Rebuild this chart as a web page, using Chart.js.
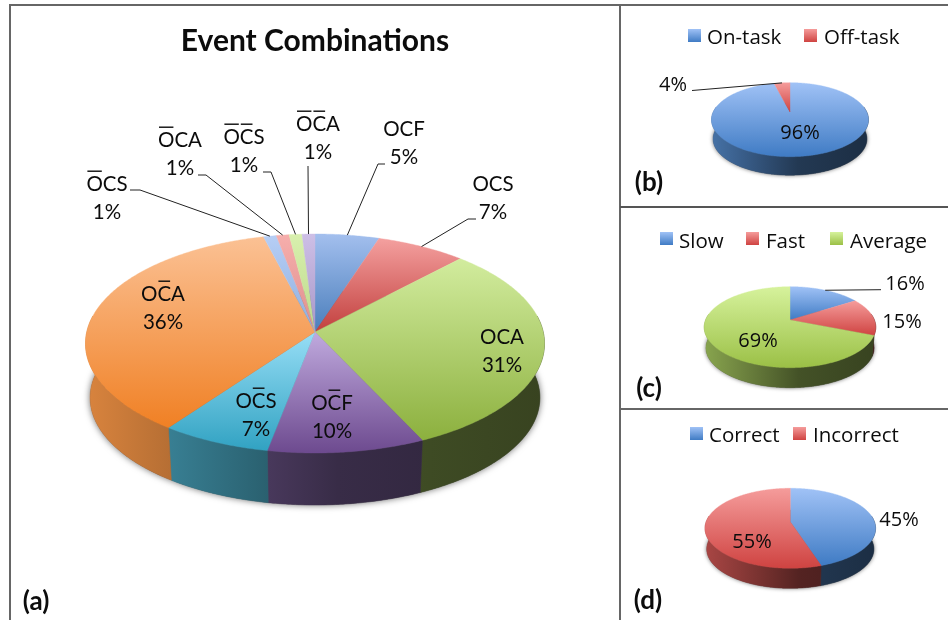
<!DOCTYPE html>
<html>
<head>
<meta charset="utf-8">
<title>Event Combinations</title>
<script src="https://cdn.jsdelivr.net/npm/chart.js@4"></script>
<style>
html, body { margin: 0; padding: 0; background: #fff; overflow: hidden; }
canvas { position: absolute; display: block; }
.rule { position: absolute; background: #666; }
</style>
</head>
<body>
<div class="rule" style="left:9px;top:4px;width:939px;height:2px"></div>
<div class="rule" style="left:9px;top:4px;width:2px;height:616px"></div>
<div class="rule" style="left:619px;top:4px;width:2px;height:616px"></div>
<div class="rule" style="left:620px;top:206px;width:328px;height:2px;background:#555"></div>
<div class="rule" style="left:620px;top:408px;width:328px;height:2px"></div>
<canvas id="eventChart" width="619" height="620" style="left:0;top:0"></canvas>
<canvas id="taskChart" width="327" height="206" style="left:621px;top:0"></canvas>
<canvas id="speedChart" width="327" height="200" style="left:621px;top:208px"></canvas>
<canvas id="answerChart" width="327" height="210" style="left:621px;top:410px"></canvas>
<script>
// U+0304 marks a barred letter in the category names
var eventNames = ["OCF", "OCS", "OCA", "OC\u0304F", "OC\u0304S", "OC\u0304A", "O\u0304CS", "O\u0304CA", "O\u0304C\u0304S", "O\u0304C\u0304A"];
var eventShares = [5, 7, 31, 10, 7, 36, 1, 1, 1, 1];
var taskNames = ["On-task", "Off-task"];
var taskShares = [96, 4];
var speedNames = ["Slow", "Fast", "Average"];
var speedShares = [16, 15, 69];
var answerNames = ["Correct", "Incorrect"];
var answerShares = [45, 55];

var BLUE = { light: "#a0c2f6", dark: "#3f7bc4", base: "#4f81bd" };
var RED = { light: "#f59c9b", dark: "#cf4341", base: "#c0504d" };
var GREEN = { light: "#d6f29c", dark: "#9bc046", base: "#9bbb59" };

var eventColors = [
    { light: "#a3bfee", dark: "#4a7ebb", base: "#4f81bd" },
    { light: "#f4a09f", dark: "#c2403e", base: "#c0504d" },
    { light: "#d2ec9e", dark: "#8cb03e", base: "#9bbb59" },
    { light: "#c0aade", dark: "#6d4a8f", base: "#8064a2" },
    { light: "#97def6", dark: "#31a2c2", base: "#4bacc6" },
    { light: "#fbc194", dark: "#f08024", base: "#f79646" },
    { light: "#b6cef5", dark: "#8eaedd", base: "#8eaedd" },
    { light: "#f6aeac", dark: "#de8f8d", base: "#de8f8d" },
    { light: "#d8f0ae", dark: "#bcd98a", base: "#bcd98a" },
    { light: "#cdbfe6", dark: "#a897c8", base: "#a897c8" }
];

// brightness of the pie wall from its left edge to its right edge
var wallShade = [[0, 0.88], [0.18, 0.74], [0.4, 0.56], [0.55, 0.44], [0.75, 0.4], [1, 0.36]];

function shade(hex, f) {
    var n = parseInt(hex.slice(1), 16);
    var r = Math.round((n >> 16) * f);
    var g = Math.round(((n >> 8) & 255) * f);
    var b = Math.round((n & 255) * f);
    return "rgb(" + r + "," + g + "," + b + ")";
}

// the tilted disc: a perspective view of the unit circle, sized from its outline
function makeView(cx, rx, top, apex, near, depth, shrink) {
    var farPart = apex - top;
    var nearPart = near - apex;
    var k = (farPart - nearPart) / (farPart + nearPart);
    return {
        cx: cx, rx: rx, apex: apex, k: k, shrink: shrink,
        a: nearPart * (1 + k),
        b: rx * Math.sqrt(1 - k * k),
        drop: depth + (1 - shrink) * nearPart
    };
}

function onDisc(v, angle, r) {
    var X = r * Math.cos(angle);
    var Y = r * Math.sin(angle);
    var w = 1 + v.k * Y;
    return { x: v.cx + v.b * X / w, y: v.apex + v.a * Y / w };
}

function below(v, p) {
    return {
        x: v.cx + (p.x - v.cx) * v.shrink,
        y: v.apex + (p.y - v.apex) * v.shrink + v.drop
    };
}

function rimPoints(v, from, to) {
    var pts = [];
    var steps = Math.max(2, Math.ceil((to - from) / 0.01));
    for (var i = 0; i <= steps; i++) {
        pts.push(onDisc(v, from + (to - from) * i / steps, 1));
    }
    return pts;
}

function tracePath(ctx, pts) {
    ctx.beginPath();
    pts.forEach(function (p, i) {
        if (i === 0) ctx.moveTo(p.x, p.y);
        else ctx.lineTo(p.x, p.y);
    });
    ctx.closePath();
}

function drawFloorShadow(ctx, v, blur) {
    var pts = rimPoints(v, 0, Math.PI * 2).map(function (p) { return below(v, p); });
    ctx.save();
    ctx.shadowColor = "rgba(0,0,0,0.6)";
    ctx.shadowBlur = blur;
    ctx.fillStyle = "#555";
    tracePath(ctx, pts);
    ctx.fill();
    ctx.restore();
}

function drawWall(ctx, v, arc, color) {
    // only the near half of the rim shows a wall
    var from = Math.max(arc.startAngle, -0.15);
    var to = Math.min(arc.endAngle, Math.PI + 0.15);
    if (to <= from) return;
    var upper = rimPoints(v, from, to);
    var lower = upper.map(function (p) { return below(v, p); }).reverse();
    var grad = ctx.createLinearGradient(v.cx - v.rx, 0, v.cx + v.rx, 0);
    wallShade.forEach(function (s) {
        grad.addColorStop(s[0], shade(color.base, s[1]));
    });
    ctx.fillStyle = grad;
    ctx.strokeStyle = grad;
    ctx.lineWidth = 0.5;
    tracePath(ctx, upper.concat(lower));
    ctx.fill();
    ctx.stroke();
}

function drawFace(ctx, v, arc, color) {
    var pts = rimPoints(v, arc.startAngle, arc.endAngle);
    pts.unshift({ x: v.cx, y: v.apex });
    var ys = pts.map(function (p) { return p.y; });
    var grad = ctx.createLinearGradient(0, Math.min.apply(null, ys), 0, Math.max.apply(null, ys));
    grad.addColorStop(0, color.light);
    grad.addColorStop(1, color.dark);
    ctx.fillStyle = grad;
    ctx.strokeStyle = grad;
    ctx.lineWidth = 0.4;
    tracePath(ctx, pts);
    ctx.fill();
    ctx.stroke();
}

// centred text with short bars over the letters flagged by U+0304
function drawBarredText(ctx, name, x, y, barLift) {
    var plain = "";
    var barred = [];
    for (var i = 0; i < name.length; i++) {
        if (name[i] === "\u0304") barred.push(plain.length - 1);
        else plain += name[i];
    }
    ctx.textAlign = "center";
    ctx.fillText(plain, x, y);
    var left = x - ctx.measureText(plain).width / 2;
    barred.forEach(function (b) {
        var x0 = left + ctx.measureText(plain.slice(0, b)).width;
        var w = ctx.measureText(plain[b]).width;
        ctx.fillRect(x0 + 1, y - barLift, w - 2, 1.4);
    });
}

function makePanel(id, left, top, names, shares, colors, view, layout) {
    var piePlugin = {
        id: "tiltedPie",
        beforeDatasetsDraw: function (chart) {
            var ctx = chart.ctx;
            var arcs = chart.getDatasetMeta(0).data;
            ctx.save();
            ctx.translate(-left, -top);

            drawFloorShadow(ctx, view, layout.blur);
            arcs.forEach(function (arc, i) { drawWall(ctx, view, arc, colors[i]); });
            arcs.forEach(function (arc, i) { drawFace(ctx, view, arc, colors[i]); });

            ctx.fillStyle = "#0c0c0c";
            ctx.textBaseline = "middle";

            // name and share labels
            ctx.font = layout.labelFont;
            arcs.forEach(function (arc, i) {
                var at = layout.labels[i];
                var share = shares[i] + "%";
                if (layout.showNames) {
                    drawBarredText(ctx, names[i], at[0], at[1], 13.5);
                    ctx.textAlign = "center";
                    ctx.fillText(share, at[0], at[1] + layout.lineGap);
                } else {
                    ctx.textAlign = "center";
                    ctx.fillText(share, at[0], at[1]);
                }
            });

            // leader lines run from the label elbow to the slice's mid angle on the rim
            ctx.strokeStyle = "#222";
            ctx.lineWidth = 1;
            arcs.forEach(function (arc, i) {
                var elbow = layout.leaders[i];
                if (!elbow) return;
                var end = onDisc(view, (arc.startAngle + arc.endAngle) / 2, 1);
                ctx.beginPath();
                elbow.forEach(function (p, j) {
                    if (j === 0) ctx.moveTo(p[0], p[1]);
                    else ctx.lineTo(p[0], p[1]);
                });
                ctx.lineTo(end.x, end.y);
                ctx.stroke();
            });

            // legend row
            if (layout.legend) {
                names.forEach(function (name, i) {
                    var g = layout.legend.swatch[i];
                    var size = layout.legend.size;
                    var y = layout.legend.y;
                    var grad = ctx.createLinearGradient(0, y, 0, y + size);
                    grad.addColorStop(0, colors[i].light);
                    grad.addColorStop(1, colors[i].dark);
                    ctx.fillStyle = grad;
                    ctx.fillRect(g, y, size, size);
                    ctx.fillStyle = "#0c0c0c";
                    ctx.font = layout.legend.font;
                    ctx.textAlign = "left";
                    ctx.textBaseline = "alphabetic";
                    ctx.fillText(name, layout.legend.text[i], layout.legend.baseline);
                });
            }

            // panel letter
            ctx.fillStyle = "#0c0c0c";
            ctx.font = "bold 26px Lato";
            ctx.textAlign = "center";
            ctx.textBaseline = "middle";
            ctx.fillText(layout.tag[0], layout.tag[1], layout.tag[2]);

            ctx.restore();
            return false;
        }
    };

    return new Chart(document.getElementById(id), {
        type: "pie",
        data: {
            labels: names,
            datasets: [{ data: shares, backgroundColor: colors.map(function (c) { return c.base; }) }]
        },
        options: {
            responsive: false,
            animation: false,
            rotation: 0,
            layout: { padding: { left: layout.padLeft || 0 } },
            plugins: {
                legend: { display: false },
                tooltip: { enabled: false },
                title: layout.title || { display: false }
            }
        },
        plugins: [piePlugin]
    });
}

makePanel("eventChart", 0, 0, eventNames, eventShares, eventColors,
    makeView(315, 229.5, 234, 332, 453, 52, 0.98), {
        blur: 7,
        padLeft: 11,
        title: {
            display: true,
            text: "Event Combinations",
            color: "#0c0c0c",
            font: { family: "Lato", size: 30, weight: "bold" },
            padding: { top: 23, bottom: 0 }
        },
        showNames: true,
        labelFont: "20.5px Lato",
        lineGap: 28,
        labels: [[404, 129], [493, 184], [502, 337], [332, 403], [256, 401], [163, 294], [107, 184], [180, 140], [244, 137], [318, 124]],
        leaders: [
            [[385, 164], [378, 164]],
            [[476, 219], [468, 219]],
            null, null, null, null,
            [[130, 190], [140, 190]],
            [[198, 175], [206, 175]],
            [[263, 172], [271, 172]],
            [[308, 166]]
        ],
        tag: ["(a)", 36, 602]
    });

makePanel("taskChart", 621, 0, taskNames, taskShares, [BLUE, RED],
    makeView(790, 78.5, 82.7, 112, 156.7, 18.5, 0.98), {
        blur: 4,
        labelFont: "20px 'Open Sans'",
        labels: [[800, 133], [673, 85]],
        leaders: [null, [[692, 90.5]]],
        legend: {
            font: "20.5px 'Open Sans'", size: 13, y: 29, baseline: 44,
            swatch: [688, 804], text: [707, 824]
        },
        tag: ["(b)", 649, 183]
    });

makePanel("speedChart", 621, 208, speedNames, speedShares, [BLUE, RED, GREEN],
    makeView(790, 85.8, 286.7, 320, 367.7, 20, 0.98), {
        blur: 4,
        labelFont: "20px 'Open Sans'",
        labels: [[905, 284], [902, 322], [758, 341]],
        leaders: [[[881, 289.7]], null, null],
        legend: {
            font: "20.5px 'Open Sans'", size: 13, y: 232, baseline: 248,
            swatch: [660, 746, 830], text: [679, 766, 850]
        },
        tag: ["(c)", 649, 389]
    });

makePanel("answerChart", 621, 410, answerNames, answerShares, [BLUE, RED],
    makeView(790.3, 85.3, 488.3, 521.7, 568.3, 20, 0.98), {
        blur: 4,
        labelFont: "20px 'Open Sans'",
        labels: [[899, 520], [752, 542]],
        leaders: [null, null],
        legend: {
            font: "20.5px 'Open Sans'", size: 13, y: 427, baseline: 442,
            swatch: [690, 793], text: [709, 813]
        },
        tag: ["(d)", 648, 601]
    });
</script>
</body>
</html>
